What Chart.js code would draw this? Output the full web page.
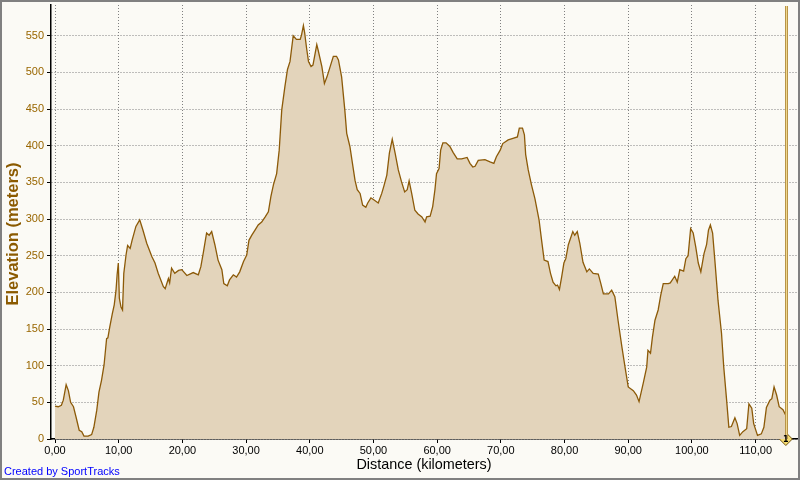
<!DOCTYPE html>
<html>
<head>
<meta charset="utf-8">
<script src="https://cdn.jsdelivr.net/npm/chart.js@4/dist/chart.umd.min.js"></script>
<style>
  html, body { margin: 0; padding: 0; background: #FBFAF5; }
  #wrap { width: 800px; height: 480px; position: relative; }
</style>
</head>
<body>
<div id="wrap"><canvas id="c" width="800" height="480"></canvas></div>
<script>
// Distance along the route (km)
const distanceKm = [
  0.0, 0.5, 1.0, 1.3, 1.75, 2.1, 2.45, 2.9, 3.3, 3.8, 4.2, 4.55, 5.2, 5.75, 6.1, 6.55, 6.9, 7.3, 7.7, 8.1,
  8.3, 8.6, 9.0, 9.3, 9.58, 9.75, 9.94, 10.1, 10.36, 10.6, 10.8, 11.15, 11.4, 11.8, 12.1, 12.7, 13.3, 13.8, 14.4, 15.2,
  15.7, 16.2, 17.0, 17.3, 17.8, 18.0, 18.3, 18.8, 19.4, 19.9, 20.7, 21.7, 22.5, 22.9, 23.3, 23.8, 24.2, 24.6, 25.1, 25.6,
  26.2, 26.5, 27.05, 27.4, 28.0, 28.5, 29.0, 29.6, 30.1, 30.45, 30.9, 31.4, 31.9, 32.45, 33.0, 33.5, 33.9, 34.3, 34.8, 35.2,
  35.6, 36.1, 36.5, 36.9, 37.4, 37.9, 38.5, 38.7, 39.0, 39.2, 39.5, 39.8, 40.2, 40.5, 41.1, 41.3, 41.9, 42.3, 42.7, 43.2,
  43.7, 44.2, 44.5, 45.0, 45.5, 45.8, 46.3, 46.7, 47.1, 47.45, 47.9, 48.3, 48.8, 49.1, 49.6, 50.1, 50.75, 51.3, 51.6, 52.1,
  52.5, 52.95, 53.4, 53.9, 54.4, 54.9, 55.3, 55.6, 56.0, 56.5, 57.0, 57.6, 58.1, 58.35, 58.9, 59.3, 59.65, 59.9, 60.3, 60.55,
  60.9, 61.4, 62.0, 62.5, 63.15, 63.85, 64.7, 65.15, 65.6, 65.95, 66.45, 67.5, 68.3, 68.9, 69.3, 69.9, 70.3, 71.15, 71.9, 72.6,
  72.9, 73.4, 73.7, 73.9, 74.3, 74.8, 75.35, 76.0, 76.4, 76.8, 77.4, 77.8, 78.2, 78.65, 78.9, 79.2, 79.55, 79.9, 80.2, 80.6,
  81.3, 81.6, 82.0, 82.4, 82.9, 83.5, 83.9, 84.5, 85.3, 85.7, 86.1, 86.9, 87.4, 87.9, 88.4, 89.0, 89.5, 90.0, 90.8, 91.3,
  91.7, 92.35, 92.9, 93.1, 93.5, 93.8, 94.2, 94.7, 95.1, 95.5, 96.3, 96.6, 97.3, 97.7, 98.1, 98.7, 99.05, 99.4, 99.8, 100.2,
  100.6, 101.0, 101.4, 101.9, 102.3, 102.6, 102.9, 103.25, 103.6, 104.1, 104.65, 105.0, 105.45, 105.8, 106.2, 106.75, 107.1, 107.5, 108.0, 108.6,
  108.95, 109.4, 109.7, 110.3, 110.9, 111.3, 111.7, 112.25, 112.55, 112.9, 113.3, 113.7, 114.3, 114.75
];
// Elevation (m)
const elevationM = [
  45, 44, 46, 53, 74, 66, 50, 44, 30, 12, 10, 4, 4, 6, 16, 39, 64, 80, 101, 137,
  138, 153, 171, 183, 203, 224, 240, 192, 180, 176, 226, 251, 264, 260, 271, 290, 299, 285, 267, 249,
  240, 226, 208, 205, 219, 213, 233, 226, 230, 231, 223, 227, 224, 235, 255, 281, 278, 283, 265, 244,
  231, 212, 209, 217, 224, 221, 228, 242, 251, 271, 278, 285, 292, 296, 303, 310, 331, 347, 362, 394,
  449, 481, 504, 515, 550, 545, 545, 551, 564, 554, 533, 515, 508, 510, 538, 531, 508, 485, 494, 508,
  522, 522, 517, 494, 449, 417, 399, 376, 353, 340, 335, 319, 316, 322, 329, 326, 322, 335, 344, 360,
  390, 409, 390, 367, 351, 337, 340, 352, 335, 312, 307, 303, 296, 303, 304, 317, 340, 362, 369, 394,
  404, 404, 399, 391, 382, 382, 384, 376, 371, 372, 380, 381, 378, 376, 385, 394, 403, 408, 410, 412,
  424, 424, 415, 388, 367, 347, 328, 299, 271, 244, 242, 226, 214, 209, 210, 204, 221, 240, 246, 265,
  283, 278, 283, 267, 241, 228, 232, 226, 225, 212, 198, 198, 203, 194, 162, 126, 98, 71, 66, 60,
  51, 76, 98, 121, 117, 139, 162, 176, 196, 212, 212, 213, 222, 214, 231, 229, 246, 250, 287, 281,
  262, 240, 228, 253, 265, 285, 292, 281, 244, 189, 144, 98, 53, 16, 17, 29, 21, 5, 10, 14,
  48, 42, 21, 5, 7, 16, 43, 53, 55, 71, 60, 44, 40, 32
];
// Axis ticks
const xTickStepKm = 10;
const yTickStepM = 50;
const markerLabel = '1';

const profile = distanceKm.map((d, i) => ({ x: d, y: elevationM[i] }));
const lastKm = distanceKm[distanceKm.length - 1];

const uiFont = '"Liberation Sans", Arial, sans-serif';

const decor = {
  id: 'decor',
  beforeDraw(chart) {
    const ctx = chart.ctx;
    ctx.save();
    ctx.fillStyle = '#FBFAF5';
    ctx.fillRect(0, 0, chart.width, chart.height);
    ctx.restore();
  },
  afterDatasetsDraw(chart) {
    const ctx = chart.ctx;
    const xs = chart.scales.x, a = chart.chartArea;
    const px = Math.round(xs.getPixelForValue(lastKm)) + 0.5;
    ctx.save();
    ctx.strokeStyle = '#B89448';
    ctx.lineWidth = 3;
    ctx.beginPath(); ctx.moveTo(px, a.top + 1); ctx.lineTo(px, a.bottom); ctx.stroke();
    ctx.strokeStyle = '#F0D88C';
    ctx.lineWidth = 1;
    ctx.beginPath(); ctx.moveTo(px, a.top + 1); ctx.lineTo(px, a.bottom); ctx.stroke();
    ctx.restore();
  },
  afterDraw(chart) {
    const ctx = chart.ctx;
    const xs = chart.scales.x, ys = chart.scales.y;
    ctx.save();
    // marker label
    const mx = xs.getPixelForValue(lastKm), my = ys.getPixelForValue(0);
    ctx.fillStyle = '#000';
    ctx.font = 'bold 8px "DejaVu Sans", sans-serif';
    ctx.textAlign = 'center';
    ctx.textBaseline = 'middle';
    ctx.fillText(markerLabel, mx, my + 0.5);
    // y axis title
    ctx.save();
    ctx.translate(13, (ys.top + ys.bottom) / 2 + 12);
    ctx.rotate(-Math.PI / 2);
    ctx.fillStyle = '#8B5A00';
    ctx.font = 'bold 16.5px ' + uiFont;
    ctx.textAlign = 'center';
    ctx.textBaseline = 'middle';
    ctx.fillText('Elevation (meters)', 0, 0);
    ctx.restore();
    // credit
    ctx.fillStyle = '#0000FF';
    ctx.font = '11px ' + uiFont;
    ctx.textAlign = 'left';
    ctx.textBaseline = 'alphabetic';
    ctx.fillText('Created by SportTracks', 4, 475);
    // frame
    ctx.strokeStyle = '#808080';
    ctx.lineWidth = 2;
    ctx.strokeRect(1, 1, chart.width - 2, chart.height - 2);
    ctx.restore();
  }
};

new Chart(document.getElementById('c'), {
  type: 'line',
  data: {
    datasets: [
      {
        data: profile,
        borderColor: '#8C5A08',
        borderWidth: 1.3,
        backgroundColor: '#E3D4BB',
        fill: 'origin',
        pointRadius: 0,
        tension: 0
      },
      {
        type: 'scatter',
        data: [{ x: lastKm, y: 0 }],
        pointStyle: 'rectRot',
        pointRadius: 6.5,
        backgroundColor: '#F6DD72',
        borderColor: '#6E5210',
        borderWidth: 1,
        clip: false
      }
    ]
  },
  plugins: [decor],
  options: {
    responsive: false,
    animation: false,
    events: [],
    layout: { autoPadding: false, padding: { left: 0, right: 3, top: 5, bottom: 0 } },
    plugins: { legend: { display: false }, tooltip: { enabled: false } },
    scales: {
      x: {
        type: 'linear',
        min: -0.63,
        max: 116.5,
        z: 1,
        afterFit(s) { s.height = 41; s.paddingLeft = 0; s.paddingRight = 0; },
        ticks: {
          stepSize: xTickStepKm,
          includeBounds: false,
          color: '#000',
          font: { family: uiFont, size: 11 },
          padding: 1,
          maxRotation: 0,
          callback: v => v.toFixed(2).replace('.', ',')
        },
        grid: {
          color: '#808080',
          lineWidth: 1,
          tickColor: '#000',
          tickLength: 4,
          tickBorderDash: []
        },
        border: { color: '#000', width: 1.5, dash: [1, 2] },
        title: {
          display: true,
          text: 'Distance (kilometers)',
          color: '#000',
          font: { family: uiFont, size: 14.4 },
          padding: { top: 0, bottom: 6 }
        }
      },
      y: {
        type: 'linear',
        min: 0,
        max: 592,
        z: 1,
        afterFit(s) { s.width = 51; s.paddingTop = 0; s.paddingBottom = 0; },
        ticks: {
          stepSize: yTickStepM,
          includeBounds: false,
          color: '#996600',
          font: { family: uiFont, size: 11 },
          padding: 3
        },
        grid: {
          color: '#808080',
          lineWidth: 1,
          tickColor: '#000',
          tickLength: 4,
          tickBorderDash: []
        },
        border: { color: '#000', width: 1.5, dash: [1, 2] },
        title: { display: false }
      }
    }
  }
});
</script>
</body>
</html>
